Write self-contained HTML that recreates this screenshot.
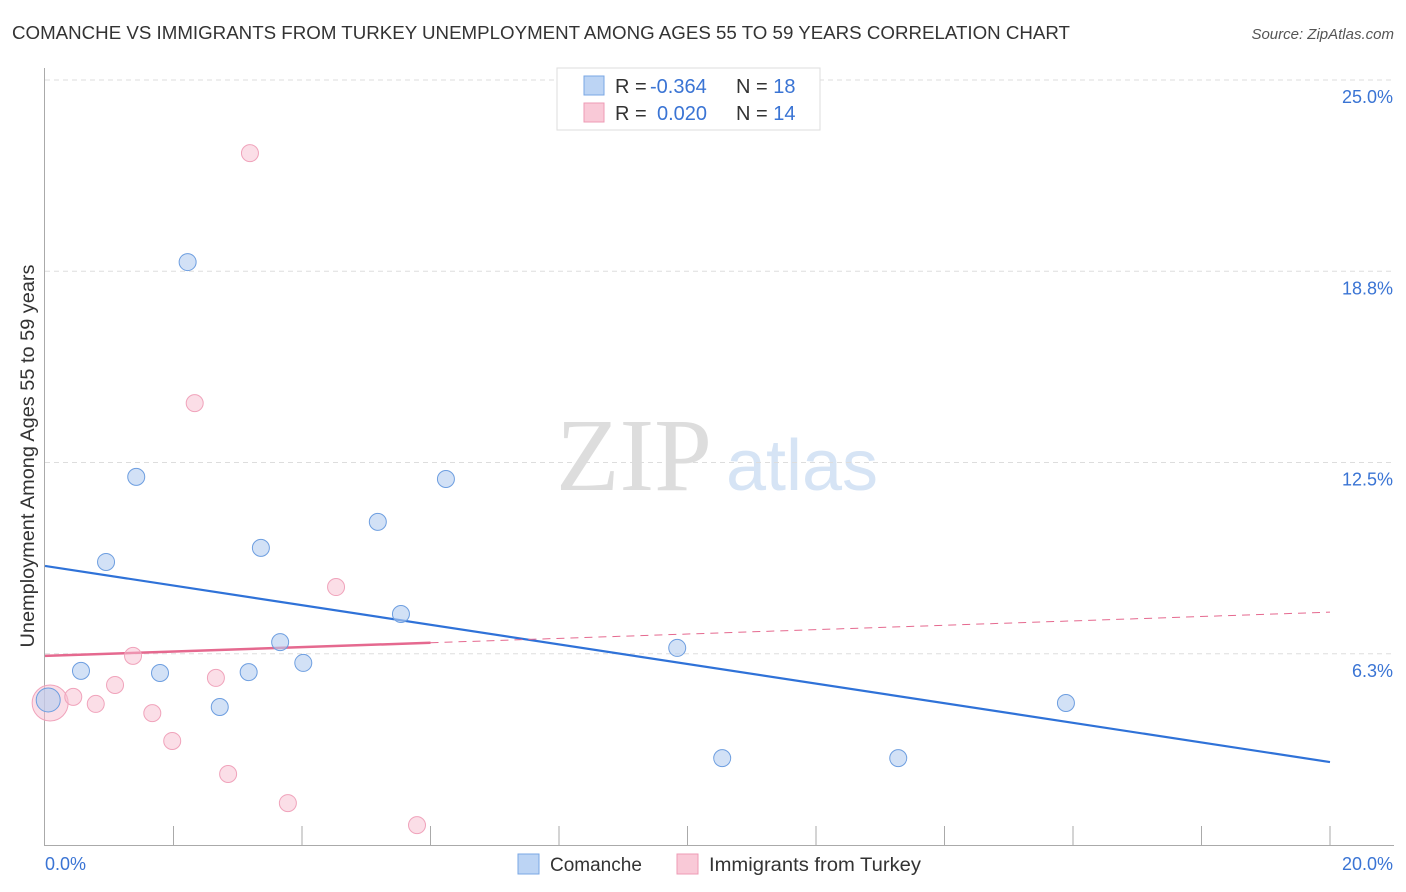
<!DOCTYPE html>
<html><head><meta charset="utf-8"><style>
body{margin:0;background:#fff;font-family:"Liberation Sans",sans-serif;}
svg{display:block}
</style></head><body>
<svg width="1406" height="892" id="chart">
<text x="12" y="39" font-size="18" fill="#333" textLength="1058" lengthAdjust="spacingAndGlyphs">COMANCHE VS IMMIGRANTS FROM TURKEY UNEMPLOYMENT AMONG AGES 55 TO 59 YEARS CORRELATION CHART</text>
<text x="1394" y="39" font-size="15" fill="#555" font-style="italic" text-anchor="end">Source: ZipAtlas.com</text>
<g><text x="634" y="490" font-family="Liberation Serif,serif" font-size="104" fill="#ddd" text-anchor="middle">ZIP</text><text x="802" y="490" font-size="72" fill="#d6e4f5" text-anchor="middle">atlas</text></g>
<text transform="translate(34,456) rotate(-90)" font-size="19" fill="#333" text-anchor="middle" textLength="383" lengthAdjust="spacingAndGlyphs">Unemployment Among Ages 55 to 59 years</text>
<g id="grid"></g><g id="axes"></g><g id="lines"></g><g id="pts"></g>
<g>
<rect x="557" y="68" width="263" height="62" fill="#fff" stroke="#ddd"/>
<rect x="584" y="76" width="20" height="19" fill="#bcd4f4" stroke="#7aa7e4"/>
<rect x="584" y="103" width="20" height="19" fill="#f9c9d7" stroke="#ee9bb4"/>
<text x="615" y="93" font-size="20" fill="#333">R = <tspan fill="#3a74d4" x="650">-0.364</tspan></text>
<text x="736" y="93" font-size="20" fill="#333">N = <tspan fill="#3a74d4">18</tspan></text>
<text x="615" y="120" font-size="20" fill="#333">R = <tspan fill="#3a74d4" x="657">0.020</tspan></text>
<text x="736" y="120" font-size="20" fill="#333">N = <tspan fill="#3a74d4">14</tspan></text>
</g>
<g>
<rect x="518" y="854" width="21" height="20" fill="#bcd4f4" stroke="#7aa7e4"/>
<text x="550" y="871" font-size="19" fill="#333">Comanche</text>
<rect x="677" y="854" width="21" height="20" fill="#f9c9d7" stroke="#ee9bb4"/>
<text x="709" y="871" font-size="19" fill="#333" textLength="212" lengthAdjust="spacingAndGlyphs">Immigrants from Turkey</text>
</g>
</svg>
<script>
const blueX=[0.05,0.56,0.95,1.42,1.79,2.22,2.72,3.17,3.36,3.66,4.02,5.18,5.54,6.24,9.84,10.54,13.28,15.89];
const blueY=[4.74,5.69,9.25,12.03,5.62,19.05,4.51,5.65,9.71,6.63,5.95,10.56,7.55,11.96,6.44,2.84,2.84,4.64];
const pinkX=[0.08,0.44,0.79,1.09,1.37,1.67,1.98,2.33,2.66,2.85,3.19,3.78,4.53,5.79];
const pinkY=[4.64,4.84,4.61,5.23,6.18,4.31,3.40,14.44,5.46,2.32,22.61,1.37,8.43,0.65];
const yTicks=[6.25,12.5,18.75,25];
const yTickLabels=["6.3%","12.5%","18.8%","25.0%"];
const blueTrend=[9.12,2.71];
const pinkTrend=[6.18,7.61];
const ns="http://www.w3.org/2000/svg";
const X=v=>45+v*64.25, Y=v=>845-v*30.6;
function mk(tag,attrs,parent){const e=document.createElementNS(ns,tag);for(const k in attrs)e.setAttribute(k,attrs[k]);document.getElementById(parent).appendChild(e);return e;}
yTicks.forEach((t,i)=>{
 const g=mk('line',{x1:45,x2:1394,y1:Y(t),y2:Y(t),stroke:'#ddd','stroke-dasharray':'5,4'},'grid');
 
 
 const l=mk('text',{x:1393,y:Y(t)+23,'font-size':18,fill:'#3a74d4','text-anchor':'end'},'grid');
 l.textContent=yTickLabels[i];
 
 
});
mk('line',{x1:44.5,x2:44.5,y1:68,y2:845,stroke:'#aaa'},'axes');
mk('line',{x1:44,x2:1394,y1:845.5,y2:845.5,stroke:'#aaa'},'axes');
for(let i=1;i<=10;i++){const t=mk('line',{x1:X(i*2),x2:X(i*2),y1:826,y2:845,stroke:'#aaa'},'axes');}
let a=mk('text',{x:45,y:870,'font-size':18,fill:'#3a74d4'},'axes');a.textContent='0.0%';


a=mk('text',{x:1393,y:870,'font-size':18,fill:'#3a74d4','text-anchor':'end'},'axes');a.textContent='20.0%';


let ln=mk('line',{x1:X(0),y1:Y(blueTrend[0]),x2:X(20),y2:Y(blueTrend[1]),stroke:'#2f72d8','stroke-width':2.2},'lines');


const pAt=v=>pinkTrend[0]+(pinkTrend[1]-pinkTrend[0])*v/20;
ln=mk('line',{x1:X(0),y1:Y(pinkTrend[0]),x2:X(6),y2:Y(pAt(6)),stroke:'#e5698f','stroke-width':2.5},'lines');


ln=mk('line',{x1:X(6),y1:Y(pAt(6)),x2:X(20),y2:Y(pinkTrend[1]),stroke:'#e5698f','stroke-width':1,'stroke-dasharray':'8,6'},'lines');


pinkX.forEach((x,i)=>{const c=mk('circle',{cx:X(x),cy:Y(pinkY[i]),r:i==0?18:8.5,fill:'rgba(248,190,208,0.5)',stroke:'#f0a3bb','stroke-width':1},'pts');
 
 });
blueX.forEach((x,i)=>{const c=mk('circle',{cx:X(x),cy:Y(blueY[i]),r:i==0?12:8.5,fill:'rgba(180,205,240,0.6)',stroke:'#6d9ee0','stroke-width':1},'pts');
 
 });
</script>
</body></html>
